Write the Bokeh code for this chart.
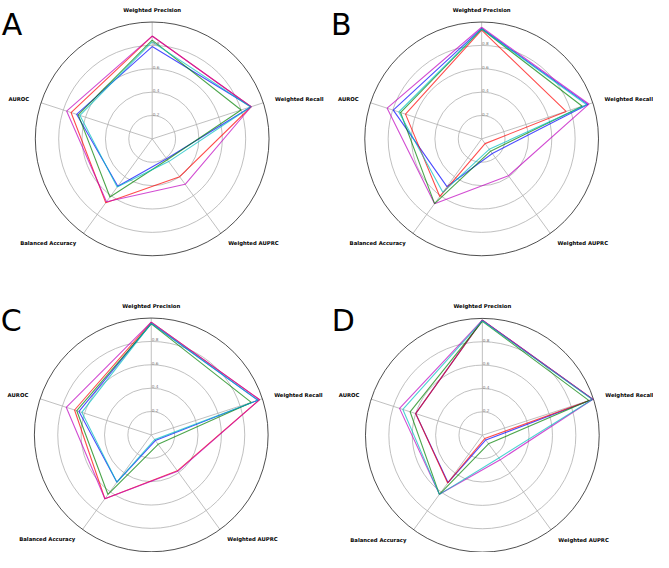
import numpy as np
from bokeh.plotting import figure
from bokeh.models import Range1d
from bokeh.core.properties import value
from bokeh.embed import file_html
from bokeh.resources import INLINE

# ---------------- data ----------------
metrics = ["Weighted Precision", "Weighted Recall", "Weighted AUPRC",
           "Balanced Accuracy", "AUROC"]
panels = ["A", "B", "C", "D"]
series = ["blue", "red", "magenta", "green", "cyan"]
r_ticks = [0.2, 0.4, 0.6, 0.8]
r_tick_labels = ["0.2", "0.4", "0.6", "0.8"]

# values per panel, per series, in metric order
A_blue    = [0.79, 0.89, 0.21, 0.50, 0.68]
A_red     = [0.88, 0.89, 0.40, 0.675, 0.73]
A_magenta = [0.88, 0.89, 0.48, 0.665, 0.77]
A_green   = [0.845, 0.80, 0.22, 0.615, 0.665]
A_cyan    = [0.83, 0.885, 0.24, 0.51, 0.65]

B_blue    = [0.945, 0.955, 0.155, 0.505, 0.795]
B_red     = [0.93, 0.76, 0.05, 0.61, 0.685]
B_magenta = [0.955, 0.965, 0.39, 0.685, 0.85]
B_green   = [0.94, 0.905, 0.13, 0.685, 0.73]
B_cyan    = [0.94, 0.945, 0.11, 0.565, 0.745]

C_blue    = [0.955, 0.96, 0.06, 0.50, 0.65]
C_red     = [0.965, 0.975, 0.38, 0.675, 0.69]
C_magenta = [0.965, 0.975, 0.385, 0.675, 0.765]
C_green   = [0.95, 0.90, 0.10, 0.63, 0.67]
C_cyan    = [0.955, 0.96, 0.05, 0.50, 0.625]

D_blue    = [0.985, 0.995, 0.05, 0.50, 0.60]
D_red     = [0.985, 0.995, 0.035, 0.505, 0.60]
D_magenta = [0.985, 0.995, 0.26, 0.625, 0.745]
D_green   = [0.975, 0.96, 0.09, 0.625, 0.65]
D_cyan    = [0.98, 0.99, 0.24, 0.625, 0.715]

data = {
    "A": {"blue": A_blue, "red": A_red, "magenta": A_magenta, "green": A_green, "cyan": A_cyan},
    "B": {"blue": B_blue, "red": B_red, "magenta": B_magenta, "green": B_green, "cyan": B_cyan},
    "C": {"blue": C_blue, "red": C_red, "magenta": C_magenta, "green": C_green, "cyan": C_cyan},
    "D": {"blue": D_blue, "red": D_red, "magenta": D_magenta, "green": D_green, "cyan": D_cyan},
}

# ---------------- styling / layout ----------------
colors = {"blue": "#0000ff", "red": "#ff0000", "magenta": "#bf00bf",
          "green": "#008000", "cyan": "#00bfbf"}
centers = {"A": (0.0, 0.0), "B": (2.819, 0.0),
           "C": (-0.008, -2.533), "D": (2.825, -2.536)}
X0, X1 = -1.2979, 4.2895
Y0, Y1 = -3.5392, 1.1842

p = figure(width=653, height=552, output_backend="svg", toolbar_location=None,
           x_range=Range1d(X0, X1), y_range=Range1d(Y0, Y1),
           min_border=0, outline_line_color=None)
p.axis.visible = False
p.grid.visible = False
p.background_fill_color = "white"

# angles: clockwise from top
angles = [np.pi / 2 - 2 * np.pi * i / len(metrics) for i in range(len(metrics))]
grid_col = "#b0b0b0"
R_LABEL = 1.106

for name in panels:
    cx, cy = centers[name]
    # grid circles
    p.circle(x=[cx] * len(r_ticks), y=[cy] * len(r_ticks), radius=r_ticks,
             fill_color=None, line_color=grid_col, line_width=0.8)
    # spokes
    xs = [[cx, cx + np.cos(a)] for a in angles]
    ys = [[cy, cy + np.sin(a)] for a in angles]
    p.multi_line(xs=xs, ys=ys, line_color=grid_col, line_width=0.8)
    # outer spine
    p.circle(x=[cx], y=[cy], radius=1.0, fill_color=None,
             line_color="#222222", line_width=0.8)

    # series
    for s in series:
        vals = data[name][s]
        px = [cx + v * np.cos(a) for v, a in zip(vals, angles)]
        py = [cy + v * np.sin(a) for v, a in zip(vals, angles)]
        px.append(px[0]); py.append(py[0])
        p.line(px, py, line_color=colors[s], line_width=1.1, line_alpha=0.7)

    # radial tick labels
    p.text(x=[cx + 0.004] * len(r_ticks), y=[cy + r + 0.017 for r in r_ticks],
           text=r_tick_labels, text_font=value("DejaVu Sans"),
           text_font_size=value("4.2px"), text_color="#777777",
           text_align="left", text_baseline="middle")

    # metric labels
    for m, a in zip(metrics, angles):
        c = np.cos(a)
        if abs(c) < 1e-6:
            align = "center"
        elif c > 0:
            align = "left"
        else:
            align = "right"
        p.text(x=[cx + R_LABEL * np.cos(a)], y=[cy + R_LABEL * np.sin(a)],
               text=[m], text_font=value("DejaVu Sans"),
               text_font_size=value("5.3px"), text_font_style="bold",
               text_color="#000000", text_align=align, text_baseline="middle")

    # panel letter
    p.text(x=[cx - 1.288], y=[cy + 0.981], text=[name], text_font=value("DejaVu Sans"),
           text_font_size=value("30px"), text_color="#000000",
           text_align="left", text_baseline="alphabetic")

open("out.html", "w").write(file_html(p, INLINE))
